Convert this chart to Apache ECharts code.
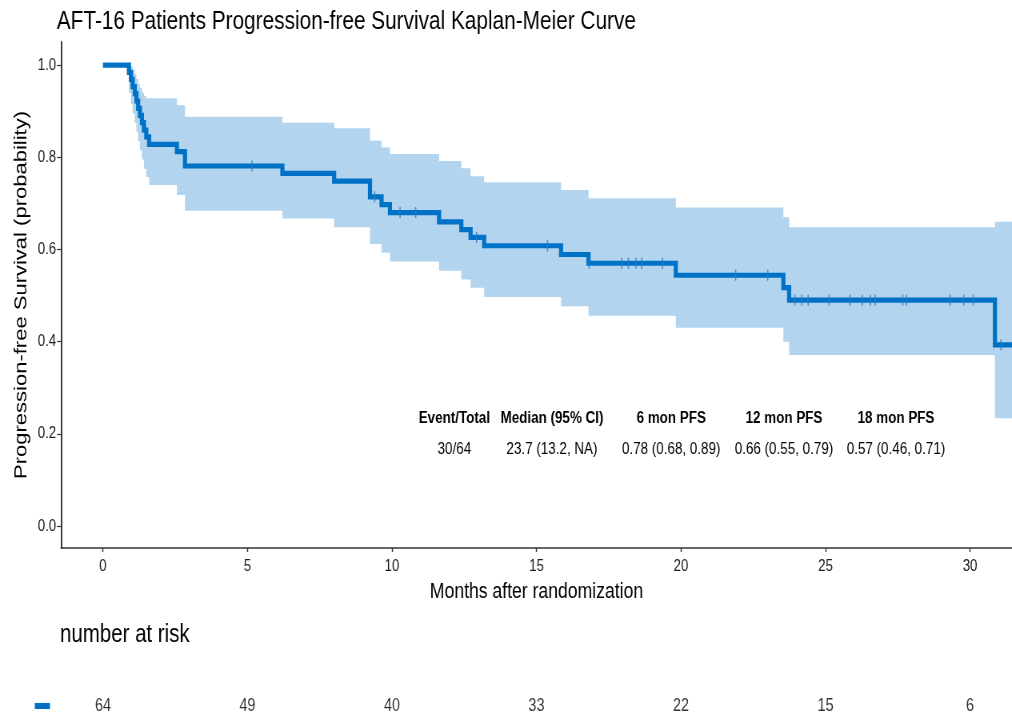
<!DOCTYPE html>
<html>
<head>
<meta charset="utf-8">
<title>AFT-16 Progression-free Survival</title>
<script src="https://cdn.jsdelivr.net/npm/echarts@6/dist/echarts.min.js"></script>
<style>
  html, body { margin: 0; padding: 0; background: #fff; overflow: hidden; width: 1012px; height: 721px; }
  /* the figure is laid out on a wider canvas and condensed horizontally */
  #chart { width: 1265px; height: 721px; transform: scaleX(0.8); transform-origin: 0 0; }
</style>
</head>
<body>
<div id="chart"></div>
<script>
// Kaplan-Meier step function: time (months) at which each level starts
const stepTimes = [0, 0.9, 0.97, 1.03, 1.1, 1.16, 1.22, 1.28, 1.35, 1.42, 1.5, 1.6,
  2.56, 2.84, 6.21, 8.0, 9.24, 9.64, 9.93, 11.63, 12.4, 12.72, 13.19, 15.85, 16.8,
  19.82, 23.54, 23.74, 30.86, 31.45];
// survival probability from each step time on
const survival = [1, 0.984, 0.969, 0.953, 0.938, 0.922, 0.906, 0.891, 0.875, 0.859, 0.844, 0.828,
  0.812, 0.781, 0.765, 0.748, 0.714, 0.697, 0.680, 0.660, 0.643, 0.626, 0.608, 0.589, 0.570,
  0.544, 0.517, 0.490, 0.393, 0.393];
// 95% confidence band
const upperCI = [1, 1, 0.997, 0.99, 0.98, 0.97, 0.96, 0.95, 0.94, 0.933, 0.928, 0.928,
  0.913, 0.888, 0.875, 0.863, 0.836, 0.821, 0.807, 0.792, 0.776, 0.759, 0.746, 0.729, 0.711,
  0.691, 0.670, 0.648, 0.660, 0.660];
const lowerCI = [1, 0.94, 0.915, 0.895, 0.875, 0.855, 0.835, 0.815, 0.795, 0.775, 0.757, 0.74,
  0.718, 0.684, 0.667, 0.648, 0.612, 0.593, 0.574, 0.554, 0.535, 0.517, 0.497, 0.477, 0.456,
  0.430, 0.400, 0.371, 0.234, 0.234];
// censored observations (months)
const censorTimes = [5.16, 9.4, 10.28, 10.82, 12.93, 15.38, 16.82, 17.95, 18.18, 18.44, 18.64,
  19.36, 21.89, 23.0, 23.94, 24.18, 24.40, 25.12, 25.85, 26.27, 26.55, 26.72, 27.67, 27.80,
  29.31, 29.78, 30.11, 31.07];
// number at risk table
const riskTimes = [0, 5, 10, 15, 20, 25, 30];
const riskCounts = [64, 49, 40, 33, 22, 15, 6];
// axis ticks
const xTicks = [0, 5, 10, 15, 20, 25, 30];
const yTicks = [0, 0.2, 0.4, 0.6, 0.8, 1.0];
// summary table
const summaryHeaders = ['Event/Total', 'Median (95% CI)', '6 mon PFS', '12 mon PFS', '18 mon PFS'];
const summaryValues = ['30/64', '23.7 (13.2, NA)', '0.78 (0.68, 0.89)', '0.66 (0.55, 0.79)', '0.57 (0.46, 0.71)'];

const LINE = '#0072C6';
const BAND = 'rgba(0,114,198,0.3)';
const FONT = '"Liberation Sans", Arial, Helvetica, sans-serif';
const X_MIN = -1.45, X_MAX = 31.45;

function survivalAt(t) {
  let v = survival[0];
  for (let i = 0; i < stepTimes.length; i++) {
    if (stepTimes[i] <= t) v = survival[i];
  }
  return v;
}

const chart = echarts.init(document.getElementById('chart'), null, { renderer: 'canvas' });

// summary table column centres (layout units of the wide canvas)
const summaryCols = [568, 690, 839, 980, 1120];
const graphics = [];
summaryHeaders.forEach((h, i) => {
  graphics.push({ type: 'text', x: summaryCols[i], y: 418,
    style: { text: h, fill: '#000', font: 'bold 16.8px ' + FONT, textAlign: 'center', textVerticalAlign: 'middle' } });
});
summaryValues.forEach((v, i) => {
  graphics.push({ type: 'text', x: summaryCols[i], y: 449,
    style: { text: v, fill: '#000', font: '16.8px ' + FONT, textAlign: 'center', textVerticalAlign: 'middle' } });
});
graphics.push({ type: 'text', x: 75, y: 635,
  style: { text: 'number at risk', fill: '#000', font: '25.6px ' + FONT, textAlign: 'left', textVerticalAlign: 'middle' } });
graphics.push({ type: 'rect', shape: { x: 43.5, y: 703, width: 19, height: 6 }, style: { fill: LINE } });

const option = {
  backgroundColor: '#fff',
  animation: false,
  title: {
    text: 'AFT-16 Patients Progression-free Survival Kaplan-Meier Curve',
    left: 66, top: 4,
    textStyle: { fontFamily: FONT, fontSize: 26, fontWeight: 'normal', color: '#000' }
  },
  grid: [
    { left: 76.25, right: 0, top: 42, bottom: 173, containLabel: false, outerBoundsMode: 'none' },
    { left: 76.25, right: 0, top: 691, height: 30, containLabel: false, outerBoundsMode: 'none' }
  ],
  xAxis: [
    {
      type: 'value', gridIndex: 0, min: X_MIN, max: X_MAX,
      name: 'Months after randomization', nameLocation: 'middle', nameGap: 33, nameMoveOverlap: false,
      nameTextStyle: { fontFamily: FONT, fontSize: 22, color: '#000' },
      axisLine: { show: true, onZero: false, lineStyle: { color: '#333', width: 1.6 } },
      axisTick: { show: true, customValues: xTicks, length: 4, lineStyle: { color: '#333', width: 1.4 } },
      axisLabel: { customValues: xTicks, margin: 10, fontFamily: FONT, fontSize: 16.5, color: '#1a1a1a' },
      splitLine: { show: false }
    },
    { type: 'value', gridIndex: 1, min: X_MIN, max: X_MAX, show: false }
  ],
  yAxis: [
    {
      type: 'value', gridIndex: 0, min: -0.0477, max: 1.05,
      name: 'Progression-free Survival (probability)', nameLocation: 'middle', nameGap: 38, nameMoveOverlap: false,
      nameTextStyle: { fontFamily: FONT, fontSize: 22, color: '#000' },
      axisLine: { show: true, onZero: false, lineStyle: { color: '#333', width: 1.9 } },
      axisTick: { show: true, customValues: yTicks, length: 5, lineStyle: { color: '#333', width: 1.2 } },
      axisLabel: { customValues: yTicks, margin: 6, fontFamily: FONT, fontSize: 16.5, color: '#1a1a1a',
        formatter: v => v.toFixed(1) },
      splitLine: { show: false }
    },
    { type: 'value', gridIndex: 1, min: 0, max: 1, show: false }
  ],
  series: [
    {
      // confidence band as a stepped polygon
      type: 'custom', xAxisIndex: 0, yAxisIndex: 0, z: 1, silent: true,
      data: [[0, 0]],
      renderItem: function (params, api) {
        const pts = [];
        for (let i = 0; i < stepTimes.length - 1; i++) {
          pts.push(api.coord([stepTimes[i], upperCI[i]]));
          pts.push(api.coord([stepTimes[i + 1], upperCI[i]]));
        }
        for (let i = stepTimes.length - 2; i >= 0; i--) {
          pts.push(api.coord([stepTimes[i + 1], lowerCI[i]]));
          pts.push(api.coord([stepTimes[i], lowerCI[i]]));
        }
        return { type: 'polygon', shape: { points: pts }, style: { fill: BAND } };
      }
    },
    {
      type: 'line', xAxisIndex: 0, yAxisIndex: 0, z: 3, step: 'end',
      showSymbol: false, silent: true,
      data: stepTimes.map((t, i) => [t, survival[i]]),
      lineStyle: { color: LINE, width: 5.2, cap: 'butt', join: 'miter' }
    },
    {
      type: 'scatter', xAxisIndex: 0, yAxisIndex: 0, z: 4, silent: true,
      symbol: 'rect', symbolSize: [1.6, 11],
      data: censorTimes.map(t => [t, survivalAt(t)]),
      itemStyle: { color: '#2a7cc6' }
    },
    {
      type: 'scatter', xAxisIndex: 1, yAxisIndex: 1, silent: true,
      symbolSize: 1, itemStyle: { color: 'rgba(0,0,0,0)' },
      data: riskTimes.map((t, i) => [t, 0.5, riskCounts[i]]),
      label: { show: true, position: 'inside', formatter: p => String(p.value[2]),
        fontFamily: FONT, fontSize: 18, color: '#000' }
    }
  ],
  graphic: graphics
};

chart.setOption(option);
</script>
</body>
</html>
